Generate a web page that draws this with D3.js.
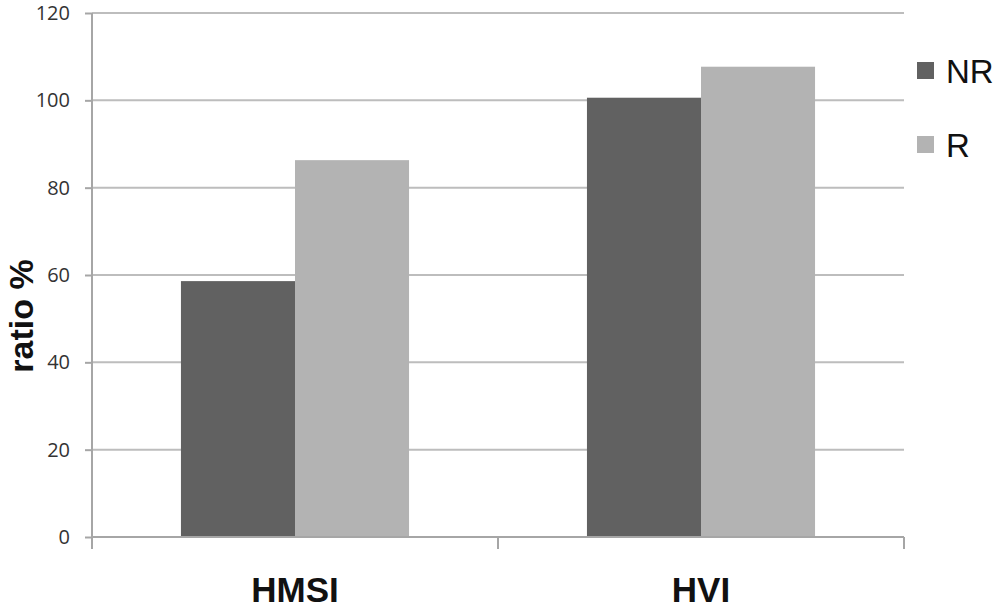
<!DOCTYPE html>
<html>
<head>
<meta charset="utf-8">
<script src="https://cdn.jsdelivr.net/npm/d3@7"></script>
<style>
  body { margin: 0; background: #fff; }
  svg { display: block; }
</style>
</head>
<body>
<svg id="chart" width="1001" height="609"></svg>
<script>
// data
var categories = ['HMSI', 'HVI'];
var seriesNames = ['NR', 'R'];
var nrValues = [58.6, 100.6];
var rValues = [86.3, 107.7];
var yTicks = [0, 20, 40, 60, 80, 100, 120];

var colors = { NR: '#616161', R: '#b3b3b3' };

// note: "top" is window.top, so use plot* names
var svg = d3.select('#chart'),
    plotLeft = 92, plotRight = 904, plotTop = 13, plotBottom = 537;

var x = d3.scaleBand().domain(categories).range([plotLeft, plotRight]).paddingInner(0).paddingOuter(0);
var xSeries = d3.scaleBand().domain(seriesNames).range([0, x.bandwidth()]).paddingInner(0).paddingOuter(0.78);
var y = d3.scaleLinear().domain([0, 120]).range([plotBottom, plotTop]);

// gridlines
svg.append('g')
  .selectAll('line')
  .data(yTicks.filter(function(d){ return d > 0 }))
  .enter().append('line')
  .attr('x1', plotLeft).attr('x2', plotRight)
  .attr('y1', function(d){ return y(d) }).attr('y2', function(d){ return y(d) })
  .attr('stroke', '#bdbdbd').attr('stroke-width', 2);

// bars
var rows = categories.map(function(c, i){
  return [{cat: c, s: 'NR', v: nrValues[i]}, {cat: c, s: 'R', v: rValues[i]}];
});
svg.append('g')
  .selectAll('g').data(rows).enter().append('g')
  .selectAll('rect').data(function(d){ return d }).enter().append('rect')
  .attr('x', function(d){ return x(d.cat) + xSeries(d.s) })
  .attr('width', xSeries.bandwidth())
  .attr('y', function(d){ return y(d.v) })
  .attr('height', function(d){ return y(0) - y(d.v) })
  .attr('fill', function(d){ return colors[d.s] });

// y axis
var yAxis = svg.append('g')
  .attr('transform', 'translate(' + plotLeft + ',0)')
  .call(d3.axisLeft(y).tickValues(yTicks).tickSize(7).tickPadding(15));
yAxis.select('.domain').attr('d', 'M0,' + plotTop + 'V' + (plotBottom + 11)).attr('stroke', '#a6a6a6').attr('stroke-width', 2);
yAxis.selectAll('.tick line').attr('stroke', '#a6a6a6').attr('stroke-width', 2);
yAxis.selectAll('.tick text')
  .attr('fill', '#333')
  .style('font-family', '"Open Sans", "DejaVu Sans", sans-serif')
  .style('font-size', '20px');

// x axis
var xAxis = svg.append('g')
  .attr('transform', 'translate(0,' + plotBottom + ')');
xAxis.append('line')
  .attr('x1', plotLeft).attr('x2', plotRight).attr('y1', 0).attr('y2', 0)
  .attr('stroke', '#a6a6a6').attr('stroke-width', 2);
xAxis.selectAll('.xt')
  .data(categories.map(function(c){ return x(c) }).concat([plotRight]))
  .enter().append('line')
  .attr('x1', function(d){ return d }).attr('x2', function(d){ return d })
  .attr('y1', 0).attr('y2', 12)
  .attr('stroke', '#a6a6a6').attr('stroke-width', 2);
xAxis.selectAll('text')
  .data(categories).enter().append('text')
  .attr('x', function(d){ return x(d) + x.bandwidth() / 2 })
  .attr('y', 65)
  .attr('text-anchor', 'middle')
  .style('font-family', '"Liberation Sans", Arial, sans-serif')
  .style('font-weight', 'bold')
  .style('font-size', '35px')
  .attr('fill', '#111')
  .text(function(d){ return d });

// y axis title
svg.append('text')
  .attr('transform', 'translate(33,316) rotate(-90)')
  .attr('text-anchor', 'middle')
  .style('font-family', '"Liberation Sans", Arial, sans-serif')
  .style('font-weight', 'bold')
  .style('font-size', '34px')
  .attr('fill', '#111')
  .text('ratio %');

// legend
var legend = svg.append('g').selectAll('g')
  .data(seriesNames).enter().append('g')
  .attr('transform', function(d, i){ return 'translate(917,' + (62 + i * 74) + ')' });
legend.append('rect')
  .attr('width', 17).attr('height', 17)
  .attr('fill', function(d){ return colors[d] });
legend.append('text')
  .attr('x', 29).attr('y', 21)
  .style('font-family', '"Liberation Sans", Arial, sans-serif')
  .style('font-size', '33px')
  .attr('fill', '#111')
  .text(function(d){ return d });
</script>
</body>
</html>
